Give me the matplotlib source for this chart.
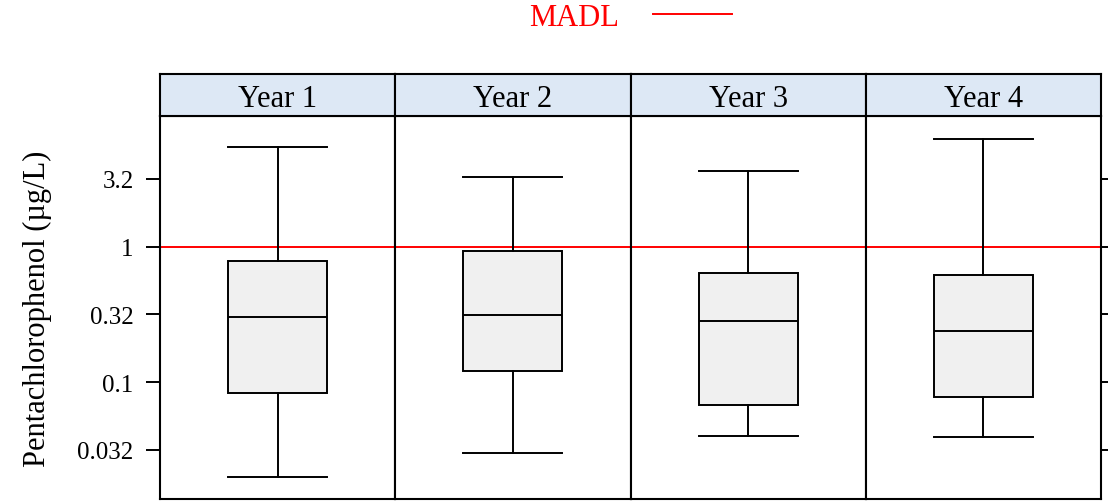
import matplotlib
matplotlib.use('Agg')
import matplotlib.pyplot as plt
from matplotlib.lines import Line2D
from matplotlib.ticker import FixedLocator, NullLocator

plt.rcParams['font.family'] = ['Liberation Serif', 'DejaVu Serif']

# box statistics (ug/L)
years = ['Year 1', 'Year 2', 'Year 3', 'Year 4']
whis_lo = [0.0201, 0.0302, 0.0403, 0.0396]
q1 = [0.0837, 0.1216, 0.0682, 0.0782]
med = [0.304, 0.315, 0.284, 0.240]
q3 = [0.788, 0.934, 0.643, 0.621]
whis_hi = [5.47, 3.28, 3.64, 6.27]

madl = 1.0
yticks = [0.032, 0.1, 0.32, 1, 3.2]
ytick_labels = ['0.032', '0.1', '0.32', '1', '3.2']
ylim = (0.0138, 9.26)

fig = plt.figure(figsize=(11.08, 5.02), dpi=100)
left, right = 160 / 1108, 1101 / 1108
bottom = 2 / 502
top = 1 - 117 / 502
strip_top = 1 - 75 / 502
w = (right - left) / len(years)

for i, yr in enumerate(years):
    ax = fig.add_axes([left + i * w, bottom, w, top - bottom])
    stats = [dict(whislo=whis_lo[i], q1=q1[i], med=med[i], q3=q3[i],
                  whishi=whis_hi[i], fliers=[])]
    ax.bxp(stats, positions=[0], widths=0.42, patch_artist=True,
           showfliers=False,
           boxprops=dict(facecolor='#f0f0f0', edgecolor='black', linewidth=1.4),
           medianprops=dict(color='black', linewidth=1.4),
           whiskerprops=dict(color='black', linewidth=1.4),
           capprops=dict(color='black', linewidth=1.4),
           capwidths=0.42)
    ax.axhline(madl, color='red', linewidth=1.4, zorder=1)
    ax.set_yscale('log')
    ax.set_ylim(*ylim)
    ax.set_xlim(-0.5, 0.5)
    ax.set_xticks([])
    ax.yaxis.set_major_locator(FixedLocator(yticks))
    ax.yaxis.set_minor_locator(NullLocator())
    ax.tick_params(axis='y', direction='out', length=10, width=1.4, pad=9,
                   labelsize=18, left=(i == 0), right=(i == len(years) - 1),
                   labelleft=(i == 0), labelright=False)
    if i == 0:
        ax.set_yticklabels(ytick_labels)
        ax.set_ylabel('Pentachlorophenol (µg/L)', fontsize=22, labelpad=18)
    for s in ax.spines.values():
        s.set_linewidth(1.5)

    sax = fig.add_axes([left + i * w, top, w, strip_top - top])
    sax.set_facecolor('#dde8f5')
    sax.set_xticks([])
    sax.set_yticks([])
    for s in sax.spines.values():
        s.set_linewidth(1.5)
    sax.text(0.5, 0.42, yr, ha='center', va='center', fontsize=22,
             transform=sax.transAxes)

handle = Line2D([], [], color='red', linewidth=1.4)
fig.legend([handle], ['MADL'], loc='center', bbox_to_anchor=(631 / 1108, 1 - 18 / 502),
           frameon=False, markerfirst=False, labelcolor='red', fontsize=22,
           handlelength=2.6, handletextpad=1.1)

fig.savefig('out.png', dpi=100)
